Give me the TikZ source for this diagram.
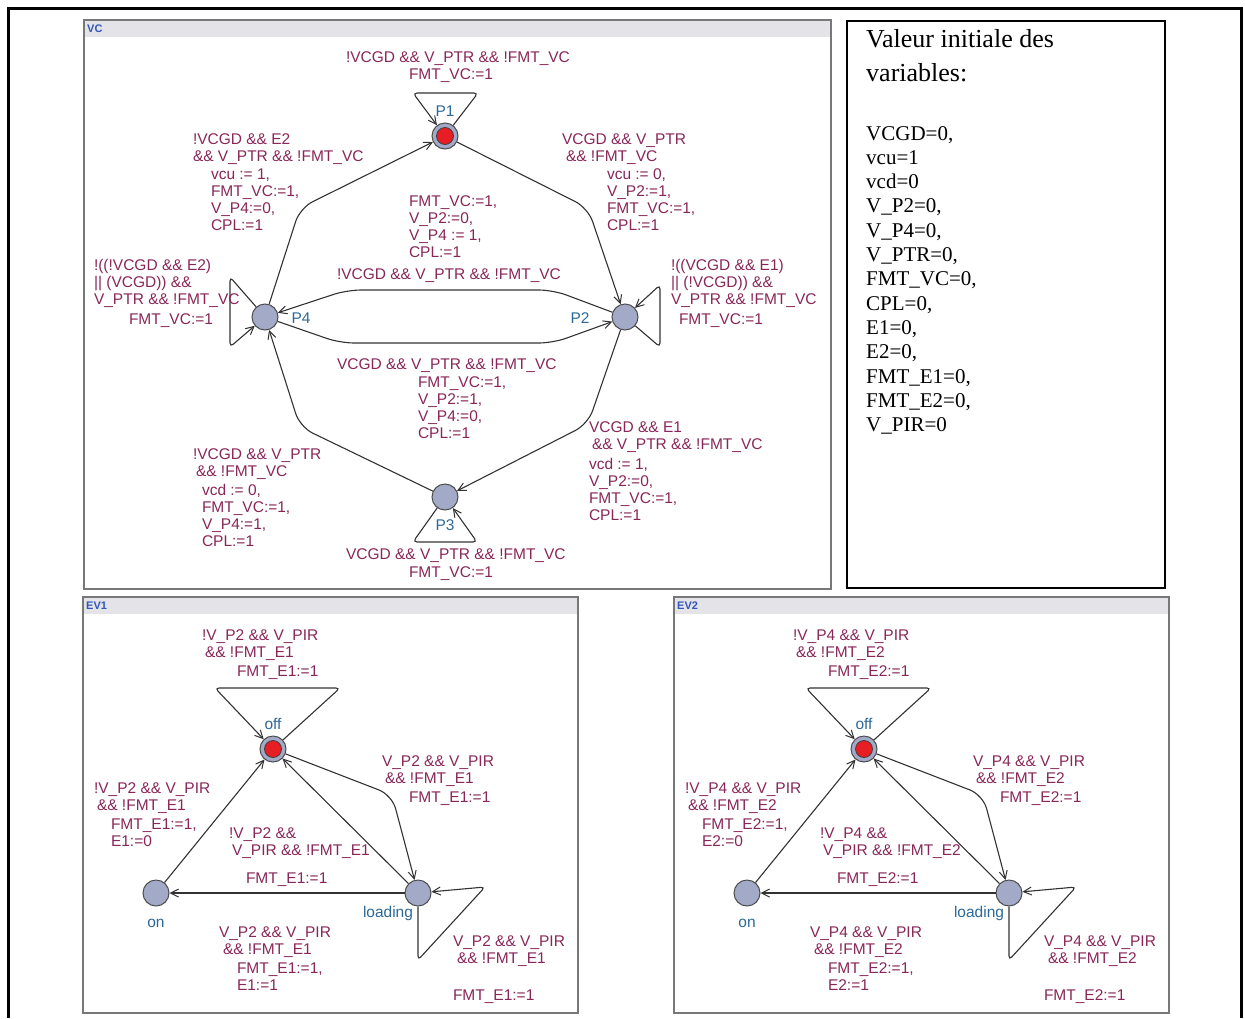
\documentclass[tikz,border=0pt]{standalone}
\usepackage{fontspec}
\setmainfont{Liberation Serif}
\newfontfamily\uifont{Liberation Sans}
\usetikzlibrary{arrows.meta}

\definecolor{lblcol}{RGB}{136,38,88}
\definecolor{loccol}{RGB}{45,105,150}
\definecolor{locfill}{RGB}{162,170,200}
\definecolor{initred}{RGB}{232,30,37}
\definecolor{hdrband}{RGB}{228,228,232}
\definecolor{hdrtext}{RGB}{50,85,185}
\definecolor{edgecol}{RGB}{50,50,50}
\definecolor{panelline}{RGB}{120,120,120}

\tikzset{
  lbl/.style={anchor=base west, inner sep=0pt, outer sep=0pt, text=lblcol,
    font=\uifont\fontsize{15.5}{17.3}\selectfont, align=left},
  % multi-line labels are anchored at their last baseline: shift down
  extralines/.style={yshift={-(#1)*17.3pt}},
  locname/.style={inner sep=0pt, text=loccol, font=\uifont\fontsize{15.5}{17}\selectfont},
  loc/.style={circle, draw=black!70, line width=1pt, fill=locfill,
    minimum size=26pt, inner sep=0pt},
  initloc/.style={loc, path picture={\filldraw[fill=initred, draw=black!75, line width=0.8pt]
    (path picture bounding box.center) circle (8.5pt);}},
  trans/.style={draw=edgecol, line width=1.1pt,
    -{Straight Barb[length=8pt,width=8pt,line width=1pt]}, rounded corners=14pt},
  selfloop/.style={trans, rounded corners=4pt},
  panel/.style={draw=panelline, line width=1.4pt},
  band/.style={fill=hdrband},
  hdr/.style={anchor=west, inner sep=0pt, text=hdrtext,
    font=\uifont\bfseries\fontsize{11}{11}\selectfont},
  vartxt/.style={anchor=base west, inner sep=0pt, align=left},
}

% One environment automaton (off / on / loading); #1 name, #2 shift,
% #3 position variable suffix, #4 environment variable
\newcommand\evpanel[4]{%
\begin{scope}[xshift=#2]
  \fill[band] (83,597) rectangle (578,614);
  \draw[panel] (83,597) rectangle (578,1013);
  \node[hdr] (#1hdr) at (86,606) {#1};

  \node[initloc] (#1off) at (273,749) {};
  \node[loc] (#1on) at (156,893) {};
  \node[loc] (#1load) at (418,893) {};
  \node[locname] (#1offn) at (273,724) {off};
  \node[locname] (#1onn) at (156,923) {on};
  \node[locname] (#1loadn) at (388,913) {loading};

  \draw[selfloop] (#1off) -- (340,688) -- (215,688) -- (#1off);
  \draw[trans] (#1on) -- (#1off);
  \draw[trans] (#1load) -- (#1off);
  \draw[trans] (#1off) -- (392,795) -- (#1load);
  \draw[trans] (#1load) -- (#1on);
  \draw[selfloop] (#1load) -- (418,960) -- (485,887) -- (#1load);

  \node[lbl, extralines=1] (#1ga) at (202,640) {!V\_#3 \&\& V\_PIR\\\hspace*{3pt}\&\& !FMT\_#4};
  \node[lbl] (#1ua) at (237,676) {FMT\_#4:=1};
  \node[lbl, extralines=1] (#1gb) at (94,793) {!V\_#3 \&\& V\_PIR\\\hspace*{3pt}\&\& !FMT\_#4};
  \node[lbl, extralines=1] (#1ub) at (111,829) {FMT\_#4:=1,\\#4:=0};
  \node[lbl, extralines=1] (#1gc) at (229,838) {!V\_#3 \&\&\\\hspace*{3pt}V\_PIR \&\& !FMT\_#4};
  \node[lbl] (#1uc) at (246,883) {FMT\_#4:=1};
  \node[lbl, extralines=1] (#1gd) at (382,766) {V\_#3 \&\& V\_PIR\\\hspace*{3pt}\&\& !FMT\_#4};
  \node[lbl] (#1ud) at (409,802) {FMT\_#4:=1};
  \node[lbl, extralines=1] (#1ge) at (219,937) {V\_#3 \&\& V\_PIR\\\hspace*{4pt}\&\& !FMT\_#4};
  \node[lbl, extralines=1] (#1ue) at (237,973) {FMT\_#4:=1,\\#4:=1};
  \node[lbl, extralines=1] (#1gf) at (453,946) {V\_#3 \&\& V\_PIR\\\hspace*{4pt}\&\& !FMT\_#4};
  \node[lbl] (#1uf) at (453,1000) {FMT\_#4:=1};
\end{scope}}

\begin{document}
\begin{tikzpicture}[x=1pt,y=-1pt]
\useasboundingbox (0,0) rectangle (1245,1018);

% outer frame, open at the bottom
\draw[line width=3pt] (8.5,1018) -- (8.5,8.5) -- (1241,8.5) -- (1241,1018);

% ---------------- VC automaton ----------------
\fill[band] (84,20) rectangle (831,37);
\draw[panel] (84,20) rectangle (831,589);
\node[hdr] (vchdr) at (87,29) {VC};

\node[initloc] (P1) at (445,136) {};
\node[loc] (P2) at (625,317) {};
\node[loc] (P3) at (445,497) {};
\node[loc] (P4) at (265,317) {};
\node[locname] (nP1) at (445,111) {P1};
\node[locname] (nP2) at (580,318) {P2};
\node[locname] (nP3) at (445,525) {P3};
\node[locname] (nP4) at (301,318) {P4};

\draw[selfloop] (P1) -- (478,93) -- (413,93) -- (P1);
\draw[trans] (P4) -- (300,208) -- (P1);
\draw[trans] (P1) -- (588,208) -- (P2);
\draw[trans] (P2) -- (553,290) -- (347,290) -- (P4);
\draw[trans] (P4) -- (340,343) -- (553,343) -- (P2);
\draw[trans] (P2) -- (588,424) -- (P3);
\draw[trans] (P3) -- (300,427) -- (P4);
\draw[selfloop] (P3) -- (413,542) -- (477,542) -- (P3);
\draw[selfloop] (P4) -- (230,277) -- (230,347) -- (P4);
\draw[selfloop] (P2) -- (660,347) -- (660,285) -- (P2);

\node[lbl] (g11) at (346,62) {!VCGD \&\& V\_PTR \&\& !FMT\_VC};
\node[lbl] (u11) at (409,79) {FMT\_VC:=1};

\node[lbl, extralines=1] (g41) at (193,144) {!VCGD \&\& E2\\\&\& V\_PTR \&\& !FMT\_VC};
\node[lbl, extralines=3] (u41) at (211,179) {vcu := 1,\\FMT\_VC:=1,\\V\_P4:=0,\\CPL:=1};

\node[lbl, extralines=1] (g12) at (562,144) {VCGD \&\& V\_PTR\\\hspace*{4pt}\&\& !FMT\_VC};
\node[lbl, extralines=3] (u12) at (607,179) {vcu := 0,\\V\_P2:=1,\\FMT\_VC:=1,\\CPL:=1};

\node[lbl, extralines=3] (u24) at (409,206) {FMT\_VC:=1,\\V\_P2:=0,\\V\_P4 := 1,\\CPL:=1};
\node[lbl] (g24) at (337,279) {!VCGD \&\& V\_PTR \&\& !FMT\_VC};

\node[lbl] (g42) at (337,369) {VCGD \&\& V\_PTR \&\& !FMT\_VC};
\node[lbl, extralines=3] (u42) at (418,387) {FMT\_VC:=1,\\V\_P2:=1,\\V\_P4:=0,\\CPL:=1};

\node[lbl, extralines=1] (g23) at (589,432) {VCGD \&\& E1\\\hspace*{3pt}\&\& V\_PTR \&\& !FMT\_VC};
\node[lbl, extralines=3] (u23) at (589,469) {vcd := 1,\\V\_P2:=0,\\FMT\_VC:=1,\\CPL:=1};

\node[lbl, extralines=1] (g34) at (193,459) {!VCGD \&\& V\_PTR\\\hspace*{3pt}\&\& !FMT\_VC};
\node[lbl, extralines=3] (u34) at (202,495) {vcd := 0,\\FMT\_VC:=1,\\V\_P4:=1,\\CPL:=1};

\node[lbl] (g33) at (346,559) {VCGD \&\& V\_PTR \&\& !FMT\_VC};
\node[lbl] (u33) at (409,577) {FMT\_VC:=1};

\node[lbl, extralines=2] (g44) at (94,270) {!((!VCGD \&\& E2)\\|| (VCGD)) \&\&\\V\_PTR \&\& !FMT\_VC};
\node[lbl] (u44) at (129,324) {FMT\_VC:=1};

\node[lbl, extralines=2] (g22) at (671,270) {!((VCGD \&\& E1)\\|| (!VCGD)) \&\&\\V\_PTR \&\& !FMT\_VC};
\node[lbl] (u22) at (679,324) {FMT\_VC:=1};

% ---------------- initial values ----------------
\draw[line width=2pt] (847,21) rectangle (1165,588);
\node[vartxt, font=\fontsize{26}{34.5}\selectfont, yshift=-34.5pt] (vtitle) at (866,47)
  {Valeur initiale des\\variables:};
\node[vartxt, font=\fontsize{21}{24.3}\selectfont, yshift=-291.6pt] (vlist) at (866,140)
  {VCGD=0,\\vcu=1\\vcd=0\\V\_P2=0,\\V\_P4=0,\\V\_PTR=0,\\FMT\_VC=0,\\CPL=0,\\E1=0,\\E2=0,\\FMT\_E1=0,\\FMT\_E2=0,\\V\_PIR=0};

% ---------------- environment automata ----------------
\evpanel{EV1}{0}{P2}{E1}
\evpanel{EV2}{591}{P4}{E2}

\end{tikzpicture}
\end{document}
